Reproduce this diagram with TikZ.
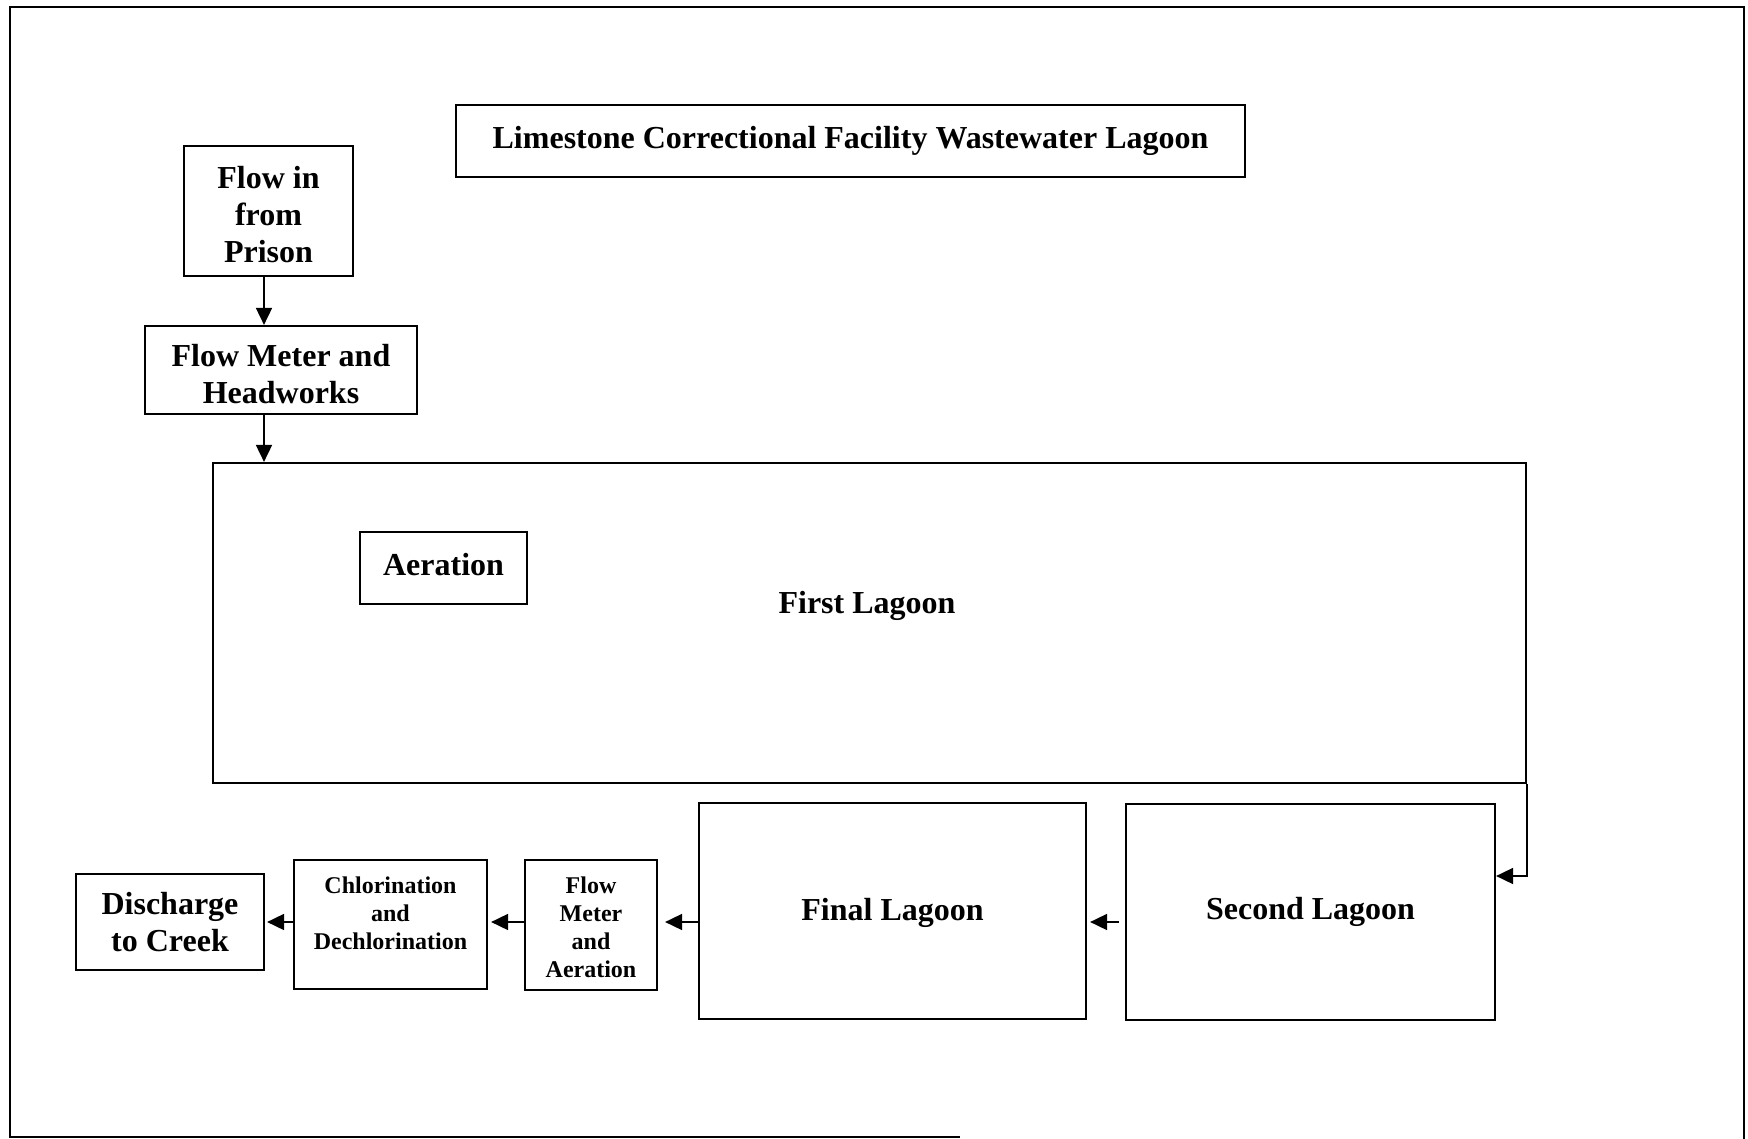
\documentclass[tikz,border=0pt]{standalone}
\usepackage{fontspec}
\setmainfont{Liberation Serif}
\usetikzlibrary{arrows.meta}
\newcommand\bigtxt{\fontsize{32}{37}\selectfont\bfseries}
\newcommand\smalltxt{\fontsize{24}{28}\selectfont\bfseries}
\tikzset{
  box/.style={draw, line width=2.2pt, rectangle, inner sep=0pt, align=center, font=\bigtxt},
  smallbox/.style={box, font=\smalltxt},
  lbl/.style={inner sep=0pt, align=center},
  arr/.style={line width=1.8pt, -{Triangle[length=17pt,width=16pt]}},
  frame/.style={line width=2.5pt},
}
\begin{document}
\begin{tikzpicture}[x=1pt,y=-1pt]
\useasboundingbox (0,0) rectangle (1748,1139);
% outer frame
\draw[frame] (960,1137) -- (10,1137) -- (10,7) -- (1744,7) -- (1744,1139);

\node[box, minimum width=789pt, minimum height=72pt] (title) at (850.5,141) {Limestone Correctional Facility Wastewater Lagoon};
\node[box, minimum width=169pt, minimum height=130pt] (fin) at (268.5,211) {\rule{0pt}{30pt}Flow in\\from\\Prison};
\node[box, minimum width=272pt, minimum height=88pt] (fm) at (281,370) {\rule{0pt}{30pt}Flow Meter and\\Headworks};
\node[box, minimum width=1313pt, minimum height=320pt] (l1) at (869.5,623) {};
\node[lbl, font=\bigtxt] (l1t) at (867,606) {First Lagoon};
\node[box, minimum width=167pt, minimum height=72pt] (aer) at (443.5,568) {Aeration\rule[-7pt]{0pt}{7pt}};
\node[box, minimum width=387pt, minimum height=216pt] (l3) at (892.5,911) {\rule{0pt}{26pt}Final Lagoon};
\node[box, minimum width=369pt, minimum height=216pt] (l2) at (1310.5,912) {Second Lagoon};
\node[smallbox, minimum width=132pt, minimum height=130pt] (fma) at (591,925) {\rule{0pt}{22pt}Flow\\Meter\\and\\Aeration};
\node[box, minimum width=193pt, minimum height=129pt] (chl) at (390.5,924.5) {};
\node[lbl, font=\smalltxt] (chlt) at (390.5,913) {Chlorination\\and\\Dechlorination};
\node[box, minimum width=188pt, minimum height=96pt] (dis) at (170,922) {Discharge\\to Creek};

\coordinate (col) at (264,0);
\coordinate (row) at (0,922);

\draw[arr] (fin.south -| col) -- (fm.north -| col);
\draw[arr] (fm.south -| col) -- (l1.north -| col);
\draw[arr] (l1.south east) |- ([yshift=36pt]l2.east);
\draw[arr, shorten <=6pt, shorten >=3pt] (l2.west |- row) -- (l3.east |- row);
\draw[arr, shorten >=7pt] (l3.west |- row) -- (fma.east |- row);
\draw[arr, shorten >=3pt] (fma.west |- row) -- (chl.east |- row);
\draw[arr, shorten >=2pt] (chl.west |- row) -- (dis.east |- row);
\end{tikzpicture}
\end{document}
